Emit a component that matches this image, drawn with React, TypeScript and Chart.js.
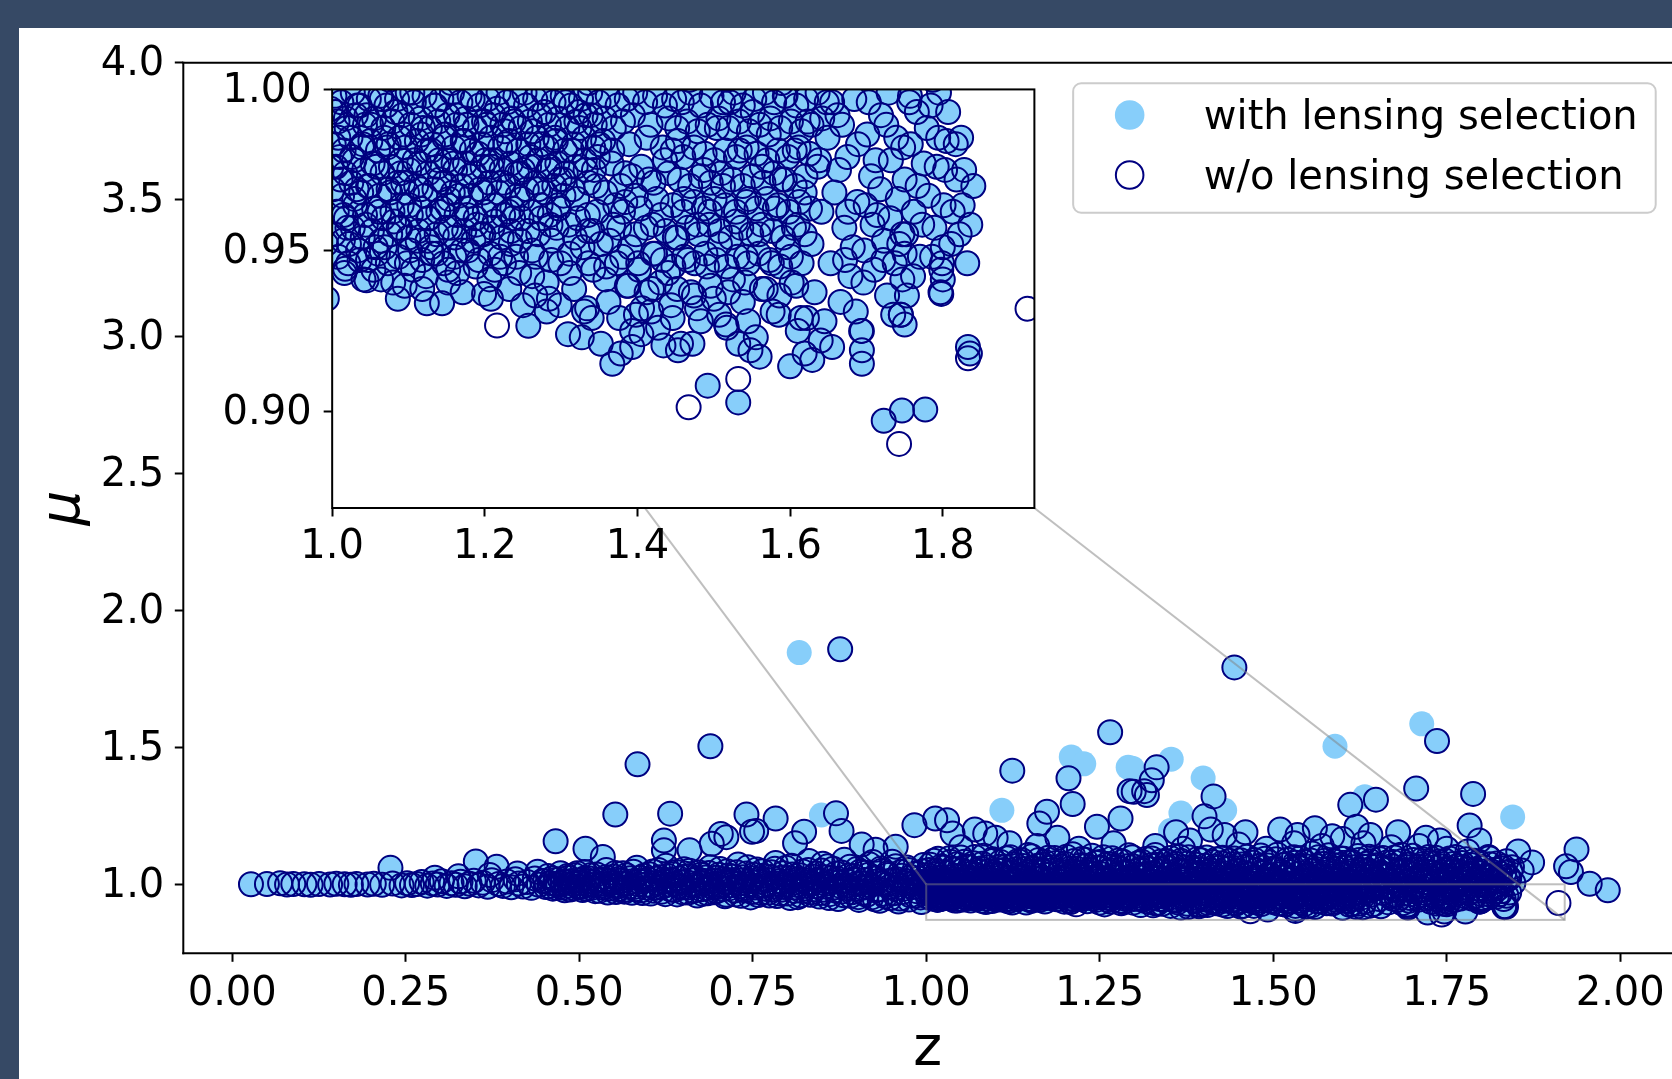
import React, { useEffect, useRef } from 'react';
import { Chart, registerables } from 'chart.js';

Chart.register(...registerables);

type P = [number, number];

// ---------------- axis / tick data ----------------
const MAIN_X_TICKS = [0, 0.25, 0.5, 0.75, 1.0, 1.25, 1.5, 1.75, 2.0];
const MAIN_Y_TICKS = [1.0, 1.5, 2.0, 2.5, 3.0, 3.5, 4.0];
const MAIN_X_RANGE = [-0.0705, 2.0746];
const MAIN_Y_RANGE = [0.748, 4.0];
const INSET_X_TICKS = [1.0, 1.2, 1.4, 1.6, 1.8];
const INSET_Y_TICKS = [0.9, 0.95, 1.0];
const INSET_X_RANGE = [1.0, 1.92];
const INSET_Y_RANGE = [0.87, 1.0];

const LABEL_WITH = 'with lensing selection';
const LABEL_WO = 'w/o lensing selection';

// ---------------- data: (z, mu) ----------------
const lowZBand: P[] = [
  [0.027, 1.0], [0.05, 1.001], [0.069, 1.004], [0.079, 0.999], [0.088, 1.001], [0.104, 1.0], [0.113, 0.998],
  [0.125, 1.001], [0.141, 0.999], [0.15, 1.002], [0.162, 1.0], [0.171, 0.998], [0.179, 1.001], [0.195, 0.999],
  [0.204, 1.002], [0.216, 0.998], [0.231, 1.003], [0.244, 0.996], [0.252, 1.004], [0.259, 0.997], [0.266, 1.001],
  [0.273, 1.008], [0.281, 0.995], [0.289, 1.003], [0.292, 1.024], [0.296, 0.999], [0.302, 1.011], [0.309, 0.994],
  [0.316, 1.004], [0.322, 0.998], [0.326, 1.029], [0.329, 1.009], [0.335, 0.993], [0.342, 1.002], [0.348, 1.013],
  [0.355, 0.996], [0.361, 1.006], [0.368, 0.991], [0.371, 1.034], [0.374, 1.015], [0.384, 1.001], [0.39, 0.994],
  [0.396, 1.01], [0.402, 0.989], [0.408, 1.018], [0.411, 1.039], [0.413, 1.003], [0.419, 0.992], [0.425, 1.008],
  [0.431, 0.987], [0.436, 1.021], [0.44, 1.046], [0.442, 0.998], [0.447, 1.012],
];

const midZBand: P[] = [
  [0.452, 0.99], [0.455, 1.03], [0.458, 1.005], [0.462, 0.984], [0.466, 1.016], [0.47, 0.997], [0.473, 1.04],
  [0.477, 0.988], [0.48, 1.009], [0.484, 1.024], [0.487, 0.981], [0.491, 1.002], [0.494, 1.033], [0.498, 0.993],
  [0.501, 1.014], [0.505, 0.979], [0.508, 1.045], [0.511, 1.0], [0.515, 1.021], [0.518, 0.987], [0.522, 1.008],
  [0.525, 1.036], [0.529, 0.976], [0.532, 0.996], [0.536, 1.017], [0.539, 1.052], [0.543, 0.984], [0.546, 1.005],
  [0.55, 1.028], [0.553, 0.972], [0.556, 0.993], [0.559, 1.013], [0.563, 1.04], [0.566, 0.98], [0.569, 1.002],
  [0.573, 1.022], [0.576, 0.969], [0.579, 0.99], [0.583, 1.06], [0.586, 1.01], [0.589, 0.977], [0.593, 1.031],
  [0.596, 0.998], [0.599, 1.018], [0.603, 0.966], [0.606, 1.047], [0.609, 0.986], [0.612, 1.006], [0.616, 1.026],
  [0.619, 0.973], [0.622, 0.994], [0.625, 1.068], [0.628, 1.014], [0.632, 0.981], [0.635, 1.037], [0.638, 1.001],
  [0.641, 0.963], [0.644, 1.021], [0.648, 0.988], [0.651, 1.055], [0.654, 1.008], [0.657, 0.97], [0.66, 1.03],
  [0.663, 0.995], [0.667, 1.016], [0.67, 0.959], [0.673, 1.043], [0.676, 0.982], [0.679, 1.004], [0.682, 1.025],
  [0.685, 0.967], [0.689, 1.062], [0.692, 0.991], [0.695, 1.012], [0.698, 0.975], [0.701, 1.035], [0.704, 0.998],
  [0.707, 1.019], [0.71, 0.956], [0.713, 1.048], [0.716, 0.985], [0.719, 1.007], [0.722, 1.028], [0.725, 0.963],
  [0.729, 1.072], [0.732, 0.993], [0.735, 1.014], [0.738, 0.978], [0.741, 1.039], [0.744, 1.0], [0.747, 0.952],
  [0.75, 1.022], [0.753, 0.988], [0.756, 1.054], [0.759, 1.009], [0.762, 0.969], [0.765, 1.031], [0.768, 0.995],
  [0.771, 1.016], [0.774, 0.959], [0.777, 1.044], [0.78, 0.982], [0.783, 1.078], [0.786, 1.003], [0.789, 0.966],
  [0.792, 1.025], [0.795, 0.99], [0.798, 1.06], [0.801, 1.011], [0.804, 0.95], [0.807, 1.036], [0.81, 0.976],
  [0.813, 0.998], [0.816, 1.019], [0.819, 0.96], [0.822, 1.047], [0.825, 0.985], [0.828, 1.006], [0.831, 1.085],
  [0.834, 0.971], [0.837, 1.028], [0.84, 0.993], [0.843, 1.014], [0.846, 0.955], [0.849, 1.05], [0.852, 0.98],
  [0.855, 1.002], [0.858, 1.066], [0.861, 0.964], [0.864, 1.023], [0.867, 0.988], [0.87, 1.039], [0.873, 0.946],
  [0.876, 1.009], [0.879, 0.974], [0.882, 1.09], [0.885, 0.996], [0.888, 1.031], [0.891, 0.958], [0.894, 1.017],
  [0.897, 0.983], [0.9, 1.056], [0.903, 0.943], [0.906, 1.004], [0.909, 0.969], [0.912, 1.042], [0.915, 0.99],
  [0.918, 1.073], [0.921, 0.952], [0.924, 1.025], [0.927, 0.978], [0.93, 1.011], [0.933, 0.94], [0.936, 1.049],
  [0.939, 0.965], [0.942, 0.997], [0.945, 1.034], [0.948, 0.949], [0.951, 1.082], [0.954, 0.984], [0.957, 1.018],
  [0.96, 0.937], [0.963, 1.045], [0.966, 0.972], [0.969, 1.003], [0.972, 1.061], [0.975, 0.944], [0.978, 1.027],
  [0.981, 0.99], [0.984, 0.958], [0.987, 1.04], [0.99, 1.009], [0.993, 0.935], [0.996, 1.07], [0.999, 0.976],
];

const midZExtra: P[] = [
  [0.451, 1.012], [0.457, 0.993], [0.461, 1.022], [0.465, 1.001], [0.468, 0.986], [0.472, 1.018], [0.476, 1.003],
  [0.479, 0.978], [0.483, 1.03], [0.486, 0.995], [0.489, 1.012], [0.493, 0.985], [0.497, 1.04], [0.5, 1.004],
  [0.503, 0.99], [0.507, 1.021], [0.51, 0.983], [0.513, 1.01], [0.517, 1.034], [0.52, 0.997], [0.523, 0.975],
  [0.527, 1.016], [0.531, 1.002], [0.534, 0.988], [0.538, 1.026], [0.541, 0.97], [0.545, 1.012], [0.548, 0.994],
  [0.552, 1.041], [0.555, 0.981], [0.558, 1.02], [0.561, 1.003], [0.565, 0.973], [0.568, 1.033], [0.571, 0.991],
  [0.575, 1.01], [0.578, 1.046], [0.581, 0.982], [0.585, 1.0], [0.588, 1.024], [0.591, 0.968], [0.595, 1.013],
  [0.598, 0.987], [0.601, 1.037], [0.605, 0.995], [0.608, 0.976], [0.611, 1.02], [0.614, 1.052], [0.618, 0.99],
  [0.621, 1.01], [0.624, 0.964], [0.627, 1.031], [0.63, 0.999], [0.634, 1.017], [0.637, 0.979], [0.64, 1.045],
  [0.643, 0.993], [0.646, 1.008], [0.65, 0.97], [0.653, 1.028], [0.656, 0.988], [0.659, 1.049], [0.662, 1.003],
  [0.665, 0.976], [0.669, 1.021], [0.672, 0.996], [0.675, 1.035], [0.678, 0.965], [0.681, 1.012], [0.684, 0.985],
  [0.687, 1.041], [0.69, 1.0], [0.694, 0.971], [0.697, 1.024], [0.7, 0.99], [0.703, 1.056], [0.706, 0.982],
  [0.709, 1.008], [0.712, 0.962], [0.715, 1.032], [0.718, 0.996], [0.721, 1.016], [0.724, 0.977], [0.727, 1.044],
  [0.73, 1.003], [0.733, 0.958], [0.736, 1.026], [0.739, 0.987], [0.743, 1.062], [0.746, 1.011], [0.749, 0.972],
  [0.752, 1.035], [0.755, 0.995], [0.758, 0.961], [0.761, 1.019], [0.764, 1.048], [0.767, 0.984], [0.77, 1.003],
  [0.773, 0.97], [0.776, 1.027], [0.779, 0.992], [0.782, 1.057], [0.785, 0.957], [0.788, 1.012], [0.791, 0.98],
  [0.794, 1.04], [0.797, 0.999], [0.8, 0.966], [0.803, 1.023], [0.806, 1.068], [0.809, 0.988], [0.812, 1.007],
  [0.815, 0.953], [0.818, 1.033], [0.821, 0.975], [0.824, 1.015], [0.827, 0.995], [0.83, 1.052], [0.833, 0.962],
  [0.836, 1.004], [0.839, 0.982], [0.842, 1.039], [0.845, 1.018], [0.848, 0.968], [0.851, 1.075], [0.854, 0.992],
  [0.857, 1.026], [0.86, 0.95], [0.863, 1.008], [0.866, 1.057], [0.869, 0.977], [0.872, 1.02], [0.875, 0.995],
  [0.878, 1.043], [0.881, 0.96], [0.884, 1.012], [0.887, 0.985], [0.89, 1.064], [0.893, 0.971], [0.896, 1.03],
  [0.899, 1.001], [0.902, 0.953], [0.905, 1.047], [0.908, 0.987], [0.911, 1.016], [0.914, 0.962], [0.917, 1.035],
  [0.92, 0.997], [0.923, 1.081], [0.926, 0.945], [0.929, 1.022], [0.932, 0.981], [0.935, 1.058], [0.938, 1.005],
  [0.941, 0.956], [0.944, 1.04], [0.947, 0.991], [0.95, 1.015], [0.953, 0.967], [0.956, 1.066], [0.959, 0.999],
  [0.962, 0.948], [0.965, 1.031], [0.968, 0.984], [0.971, 1.012], [0.974, 1.052], [0.977, 0.96], [0.98, 1.002],
  [0.983, 1.038], [0.986, 0.975], [0.989, 1.021], [0.992, 0.952], [0.995, 1.048], [0.998, 0.994],
];

const highZUpperBand: P[] = [
  [1.002, 1.034], [1.006, 1.071], [1.009, 1.012], [1.013, 1.049], [1.017, 1.093], [1.02, 1.025], [1.024, 1.06],
  [1.028, 1.004], [1.031, 1.04], [1.035, 1.082], [1.039, 1.018], [1.042, 1.055], [1.046, 1.03], [1.05, 1.098],
  [1.053, 1.008], [1.057, 1.066], [1.061, 1.043], [1.064, 1.021], [1.068, 1.077], [1.072, 1.035], [1.075, 1.003],
  [1.079, 1.058], [1.083, 1.104], [1.086, 1.027], [1.09, 1.047], [1.094, 1.014], [1.097, 1.086], [1.101, 1.039],
  [1.105, 1.064], [1.108, 1.006], [1.112, 1.052], [1.116, 1.095], [1.119, 1.023], [1.123, 1.041], [1.127, 1.073],
  [1.13, 1.01], [1.134, 1.033], [1.138, 1.088], [1.141, 1.056], [1.145, 1.019], [1.149, 1.045], [1.152, 1.102],
  [1.156, 1.002], [1.16, 1.068], [1.163, 1.029], [1.167, 1.05], [1.171, 1.081], [1.174, 1.013], [1.178, 1.037],
  [1.182, 1.062], [1.185, 1.096], [1.189, 1.024], [1.193, 1.046], [1.196, 1.008], [1.2, 1.075], [1.204, 1.032],
  [1.207, 1.057], [1.211, 1.11], [1.215, 1.016], [1.218, 1.043], [1.222, 1.069], [1.226, 1.027], [1.229, 1.09],
  [1.233, 1.005], [1.237, 1.052], [1.24, 1.036], [1.244, 1.079], [1.248, 1.011], [1.251, 1.061], [1.255, 1.099],
  [1.259, 1.022], [1.262, 1.047], [1.266, 1.072], [1.27, 1.004], [1.273, 1.034], [1.277, 1.087], [1.281, 1.055],
  [1.284, 1.017], [1.288, 1.041], [1.292, 1.106], [1.295, 1.026], [1.299, 1.065], [1.303, 1.009], [1.306, 1.049],
  [1.31, 1.083], [1.314, 1.03], [1.317, 1.058], [1.321, 1.014], [1.325, 1.094], [1.328, 1.038], [1.332, 1.07],
  [1.336, 1.002], [1.339, 1.053], [1.343, 1.021], [1.347, 1.085], [1.35, 1.044], [1.354, 1.012], [1.358, 1.066],
  [1.361, 1.031], [1.365, 1.101], [1.369, 1.049], [1.372, 1.007], [1.376, 1.076], [1.38, 1.035], [1.383, 1.059],
  [1.387, 1.018], [1.391, 1.092], [1.394, 1.042], [1.398, 1.026], [1.402, 1.068], [1.405, 1.004], [1.409, 1.051],
  [1.413, 1.081], [1.416, 1.033], [1.42, 1.015], [1.424, 1.062], [1.427, 1.097], [1.431, 1.039], [1.435, 1.056],
  [1.438, 1.01], [1.442, 1.073], [1.446, 1.028], [1.449, 1.047], [1.453, 1.088], [1.457, 1.019], [1.46, 1.064],
  [1.464, 1.036], [1.468, 1.003], [1.471, 1.079], [1.475, 1.052], [1.479, 1.024], [1.482, 1.105], [1.486, 1.041],
  [1.49, 1.013], [1.493, 1.069], [1.497, 1.033], [1.501, 1.058], [1.504, 1.091], [1.508, 1.008], [1.512, 1.045],
  [1.515, 1.027], [1.519, 1.074], [1.523, 1.016], [1.526, 1.055], [1.53, 1.099], [1.534, 1.037], [1.537, 1.063],
  [1.541, 1.005], [1.545, 1.082], [1.548, 1.03], [1.552, 1.049], [1.556, 1.112], [1.559, 1.021], [1.563, 1.066],
  [1.567, 1.04], [1.57, 1.011], [1.574, 1.086], [1.578, 1.054], [1.581, 1.029], [1.585, 1.071], [1.589, 1.002],
  [1.592, 1.044], [1.596, 1.095], [1.6, 1.034], [1.603, 1.06], [1.607, 1.017], [1.611, 1.078], [1.614, 1.048],
  [1.618, 1.025], [1.622, 1.103], [1.625, 1.038], [1.629, 1.065], [1.633, 1.009], [1.636, 1.052], [1.64, 1.084],
  [1.644, 1.031], [1.647, 1.019], [1.651, 1.07], [1.655, 1.043], [1.658, 1.096], [1.662, 1.012], [1.666, 1.057],
  [1.669, 1.035], [1.673, 1.081], [1.677, 1.004], [1.68, 1.049], [1.684, 1.108], [1.688, 1.026], [1.691, 1.063],
  [1.695, 1.039], [1.699, 1.015], [1.702, 1.089], [1.706, 1.054], [1.71, 1.03], [1.713, 1.072], [1.717, 1.008],
  [1.721, 1.046], [1.724, 1.1], [1.728, 1.021], [1.732, 1.061], [1.735, 1.037], [1.739, 1.083], [1.743, 1.013],
  [1.746, 1.051], [1.75, 1.028], [1.754, 1.094], [1.757, 1.044], [1.761, 1.006], [1.765, 1.067], [1.768, 1.033],
  [1.772, 1.078], [1.776, 1.018], [1.779, 1.055], [1.783, 1.04], [1.787, 1.003], [1.79, 1.086], [1.794, 1.025],
  [1.798, 1.06], [1.801, 1.012], [1.805, 1.047], [1.809, 1.031], [1.812, 1.073], [1.816, 1.008], [1.82, 1.053],
  [1.823, 1.022], [1.827, 1.039], [1.831, 1.065], [1.835, 1.014], [1.838, 1.028], [1.842, 1.048], [1.846, 1.005],
];

const highZExtra: P[] = [
  [1.004, 1.052], [1.008, 1.021], [1.011, 1.086], [1.015, 1.038], [1.019, 1.007], [1.022, 1.066], [1.026, 1.044],
  [1.03, 1.015], [1.033, 1.095], [1.037, 1.058], [1.041, 1.029], [1.044, 1.073], [1.048, 1.01], [1.052, 1.049],
  [1.055, 1.082], [1.059, 1.026], [1.063, 1.062], [1.066, 1.04], [1.07, 1.1], [1.074, 1.018], [1.077, 1.047],
  [1.081, 1.075], [1.085, 1.005], [1.088, 1.062], [1.092, 1.033], [1.096, 1.091], [1.099, 1.012], [1.103, 1.05],
  [1.107, 1.081], [1.11, 1.028], [1.114, 1.063], [1.118, 1.04], [1.121, 1.099], [1.125, 1.011], [1.129, 1.055],
  [1.132, 1.085], [1.136, 1.024], [1.14, 1.067], [1.143, 1.037], [1.147, 1.107], [1.151, 1.006], [1.154, 1.059],
  [1.158, 1.045], [1.162, 1.089], [1.165, 1.02], [1.169, 1.071], [1.173, 1.034], [1.176, 1.097], [1.18, 1.013],
  [1.184, 1.053], [1.187, 1.078], [1.191, 1.039], [1.195, 1.064], [1.198, 1.023], [1.202, 1.101], [1.206, 1.047],
  [1.209, 1.008], [1.213, 1.085], [1.217, 1.057], [1.22, 1.03], [1.224, 1.092], [1.228, 1.015], [1.231, 1.068],
  [1.235, 1.042], [1.239, 1.104], [1.242, 1.025], [1.246, 1.06], [1.25, 1.081], [1.253, 1.037], [1.257, 1.013],
  [1.261, 1.074], [1.264, 1.052], [1.268, 1.095], [1.272, 1.026], [1.275, 1.06], [1.279, 1.008], [1.283, 1.083],
  [1.286, 1.044], [1.29, 1.066], [1.294, 1.019], [1.297, 1.099], [1.301, 1.035], [1.305, 1.077], [1.308, 1.057],
  [1.312, 1.011], [1.316, 1.092], [1.319, 1.04], [1.323, 1.069], [1.327, 1.024], [1.33, 1.107], [1.334, 1.048],
  [1.338, 1.083], [1.341, 1.017], [1.345, 1.062], [1.349, 1.036], [1.352, 1.096], [1.356, 1.009], [1.36, 1.074],
  [1.363, 1.051], [1.367, 1.086], [1.371, 1.023], [1.374, 1.061], [1.378, 1.099], [1.382, 1.042], [1.385, 1.012],
  [1.389, 1.071], [1.393, 1.055], [1.396, 1.088], [1.4, 1.03], [1.404, 1.098], [1.407, 1.045], [1.411, 1.017],
  [1.415, 1.064], [1.418, 1.091], [1.422, 1.038], [1.426, 1.077], [1.429, 1.006], [1.433, 1.058], [1.437, 1.086],
  [1.44, 1.025], [1.444, 1.094], [1.448, 1.05], [1.451, 1.014], [1.455, 1.072], [1.459, 1.04], [1.462, 1.101],
  [1.466, 1.059], [1.47, 1.027], [1.473, 1.089], [1.477, 1.012], [1.481, 1.068], [1.484, 1.046], [1.488, 1.093],
  [1.492, 1.031], [1.495, 1.08], [1.499, 1.018], [1.503, 1.056], [1.506, 1.108], [1.51, 1.037], [1.514, 1.07],
  [1.517, 1.003], [1.521, 1.09], [1.525, 1.045], [1.528, 1.022], [1.532, 1.079], [1.536, 1.06], [1.539, 1.095],
  [1.543, 1.014], [1.547, 1.066], [1.55, 1.033], [1.554, 1.087], [1.558, 1.051], [1.561, 1.01], [1.565, 1.099],
  [1.569, 1.029], [1.572, 1.074], [1.576, 1.043], [1.58, 1.106], [1.583, 1.016], [1.587, 1.085], [1.591, 1.057],
  [1.594, 1.026], [1.598, 1.071], [1.602, 1.093], [1.605, 1.041], [1.609, 1.006], [1.613, 1.082], [1.616, 1.062],
  [1.62, 1.03], [1.624, 1.089], [1.627, 1.05], [1.631, 1.013], [1.635, 1.075], [1.638, 1.101], [1.642, 1.04],
  [1.646, 1.063], [1.649, 1.021], [1.653, 1.092], [1.657, 1.056], [1.66, 1.034], [1.664, 1.08], [1.668, 1.01],
  [1.671, 1.067], [1.675, 1.098], [1.679, 1.045], [1.682, 1.024], [1.686, 1.085], [1.69, 1.052], [1.693, 1.007],
  [1.697, 1.072], [1.701, 1.104], [1.704, 1.036], [1.708, 1.064], [1.712, 1.016], [1.715, 1.091], [1.719, 1.048],
  [1.723, 1.028], [1.726, 1.077], [1.73, 1.042], [1.734, 1.097], [1.737, 1.011], [1.741, 1.066], [1.745, 1.035],
  [1.748, 1.086], [1.752, 1.057], [1.756, 1.02], [1.759, 1.074], [1.763, 1.1], [1.767, 1.046], [1.77, 1.009],
  [1.774, 1.062], [1.778, 1.091], [1.781, 1.03], [1.785, 1.07], [1.789, 1.051], [1.792, 1.015], [1.796, 1.082],
  [1.8, 1.04], [1.803, 1.063], [1.807, 1.025], [1.811, 1.095], [1.814, 1.048], [1.818, 1.033], [1.822, 1.076],
  [1.825, 1.011], [1.829, 1.058], [1.833, 1.043], [1.836, 1.084], [1.84, 1.022], [1.844, 1.062],
];

const insetDenseUpper: P[] = [
  [1.003, 0.998], [1.012, 0.996], [1.027, 0.999], [1.036, 0.995], [1.048, 0.997], [1.063, 0.998], [1.071, 0.995],
  [1.085, 0.997], [1.099, 0.999], [1.107, 0.996], [1.121, 0.998], [1.135, 0.995], [1.143, 0.997], [1.157, 0.999],
  [1.168, 0.996], [1.18, 0.998], [1.193, 0.995], [1.204, 0.997], [1.218, 0.999], [1.229, 0.996], [1.24, 0.998],
  [1.254, 0.995], [1.266, 0.997], [1.277, 0.999], [1.29, 0.996], [1.302, 0.998], [1.313, 0.995], [1.326, 0.997],
  [1.338, 0.999], [1.349, 0.996], [1.361, 0.998], [1.374, 0.995], [1.386, 0.997], [1.397, 0.999], [1.41, 0.996],
  [1.423, 0.998], [1.436, 0.995], [1.448, 0.997],
  [1.007, 0.99], [1.019, 0.988], [1.031, 0.992], [1.043, 0.989], [1.055, 0.991], [1.067, 0.988], [1.079, 0.99],
  [1.092, 0.992], [1.103, 0.989], [1.116, 0.991], [1.128, 0.988], [1.139, 0.99], [1.151, 0.992], [1.163, 0.989],
  [1.175, 0.991], [1.187, 0.988], [1.199, 0.99], [1.211, 0.992], [1.223, 0.989], [1.235, 0.991], [1.247, 0.988],
  [1.259, 0.99], [1.272, 0.992], [1.284, 0.989], [1.296, 0.991], [1.308, 0.988], [1.32, 0.99], [1.332, 0.992],
  [1.344, 0.989], [1.357, 0.991], [1.369, 0.988], [1.381, 0.99], [1.394, 0.992], [1.417, 0.989], [1.441, 0.991],
  [1.002, 0.983], [1.015, 0.981], [1.024, 0.985], [1.039, 0.982], [1.05, 0.984], [1.06, 0.981], [1.074, 0.983],
  [1.088, 0.985], [1.096, 0.982], [1.111, 0.984], [1.124, 0.981], [1.132, 0.983], [1.147, 0.985], [1.159, 0.982],
  [1.171, 0.984], [1.183, 0.981], [1.196, 0.983], [1.208, 0.985], [1.22, 0.982], [1.232, 0.984], [1.244, 0.981],
  [1.257, 0.983], [1.268, 0.985], [1.281, 0.982], [1.293, 0.984], [1.305, 0.981], [1.317, 0.983], [1.33, 0.985],
  [1.342, 0.982], [1.355, 0.984], [1.367, 0.981], [1.389, 0.983], [1.412, 0.985], [1.433, 0.982],
  [1.005, 0.976], [1.017, 0.974], [1.029, 0.978], [1.042, 0.975], [1.053, 0.977], [1.066, 0.974], [1.077, 0.976],
  [1.09, 0.978], [1.101, 0.975], [1.114, 0.977], [1.126, 0.974], [1.138, 0.976], [1.15, 0.978], [1.161, 0.975],
  [1.174, 0.977], [1.186, 0.974], [1.197, 0.976], [1.21, 0.978], [1.222, 0.975], [1.234, 0.977], [1.246, 0.974],
  [1.258, 0.976], [1.27, 0.978], [1.283, 0.975], [1.295, 0.977], [1.306, 0.974], [1.319, 0.976], [1.331, 0.978],
  [1.343, 0.975], [1.366, 0.977], [1.384, 0.974], [1.405, 0.976],
];

const insetDenseLower: P[] = [
  [1.001, 0.969], [1.013, 0.967], [1.025, 0.971], [1.038, 0.968], [1.049, 0.97], [1.062, 0.967], [1.074, 0.969],
  [1.086, 0.971], [1.098, 0.968], [1.11, 0.97], [1.122, 0.967], [1.134, 0.969], [1.147, 0.971], [1.158, 0.968],
  [1.17, 0.97], [1.182, 0.967], [1.194, 0.969], [1.206, 0.971], [1.218, 0.968], [1.231, 0.97], [1.243, 0.967],
  [1.255, 0.969], [1.267, 0.971], [1.279, 0.968], [1.291, 0.97], [1.303, 0.967], [1.315, 0.969], [1.336, 0.971],
  [1.358, 0.968], [1.378, 0.97],
  [1.006, 0.962], [1.018, 0.96], [1.03, 0.964], [1.043, 0.961], [1.055, 0.963], [1.067, 0.96], [1.079, 0.962],
  [1.091, 0.964], [1.103, 0.961], [1.115, 0.963], [1.127, 0.96], [1.139, 0.962], [1.151, 0.964], [1.163, 0.961],
  [1.175, 0.963], [1.188, 0.96], [1.2, 0.962], [1.212, 0.964], [1.224, 0.961], [1.236, 0.963], [1.248, 0.96],
  [1.261, 0.962], [1.273, 0.964], [1.285, 0.961], [1.297, 0.963], [1.322, 0.96], [1.347, 0.962], [1.371, 0.964],
  [1.002, 0.955], [1.014, 0.953], [1.027, 0.957], [1.04, 0.954], [1.052, 0.956], [1.064, 0.953], [1.076, 0.955],
  [1.089, 0.957], [1.1, 0.954], [1.113, 0.956], [1.125, 0.953], [1.137, 0.955], [1.149, 0.957], [1.161, 0.954],
  [1.173, 0.956], [1.185, 0.953], [1.198, 0.955], [1.21, 0.957], [1.222, 0.954], [1.234, 0.956], [1.246, 0.953],
  [1.27, 0.955], [1.294, 0.957], [1.318, 0.954], [1.341, 0.956], [1.363, 0.953],
  [1.008, 0.948], [1.021, 0.946], [1.034, 0.95], [1.047, 0.947], [1.06, 0.949], [1.073, 0.946], [1.087, 0.948],
  [1.102, 0.95], [1.118, 0.947], [1.131, 0.949], [1.146, 0.946], [1.16, 0.948], [1.178, 0.95], [1.192, 0.947],
  [1.207, 0.949], [1.225, 0.946], [1.241, 0.948], [1.262, 0.95], [1.287, 0.947], [1.311, 0.949], [1.336, 0.946],
];

const insetDenseExtra: P[] = [
  [1.004, 0.993], [1.008, 0.985], [1.011, 0.972], [1.015, 0.961], [1.018, 0.991], [1.022, 0.952], [1.026, 0.979],
  [1.029, 0.966], [1.033, 0.995], [1.036, 0.947], [1.04, 0.983], [1.044, 0.958], [1.047, 0.97], [1.051, 0.989],
  [1.054, 0.944], [1.058, 0.976], [1.062, 0.962], [1.065, 0.997], [1.069, 0.951], [1.072, 0.982], [1.076, 0.968],
  [1.08, 0.94], [1.083, 0.993], [1.087, 0.957], [1.09, 0.974], [1.094, 0.986], [1.098, 0.946], [1.101, 0.964],
  [1.105, 0.999], [1.108, 0.978], [1.112, 0.953], [1.116, 0.969], [1.119, 0.988], [1.123, 0.942], [1.126, 0.96],
  [1.13, 0.981], [1.134, 0.995], [1.137, 0.949], [1.141, 0.972], [1.144, 0.963], [1.148, 0.986], [1.152, 0.944],
  [1.155, 0.957], [1.159, 0.977], [1.162, 0.992], [1.166, 0.967], [1.17, 0.95], [1.173, 0.984], [1.177, 0.961],
  [1.18, 0.973], [1.184, 0.997], [1.188, 0.945], [1.191, 0.98], [1.195, 0.955], [1.198, 0.968], [1.202, 0.989],
  [1.206, 0.941], [1.209, 0.976], [1.213, 0.959], [1.216, 0.994], [1.22, 0.948], [1.224, 0.971], [1.227, 0.983],
  [1.231, 0.962], [1.234, 0.952], [1.238, 0.99], [1.242, 0.974], [1.245, 0.943], [1.249, 0.966], [1.252, 0.999],
  [1.256, 0.956], [1.26, 0.979], [1.263, 0.987], [1.267, 0.948], [1.27, 0.969], [1.274, 0.96], [1.278, 0.993],
  [1.281, 0.94], [1.285, 0.976], [1.288, 0.953], [1.292, 0.985], [1.296, 0.964], [1.299, 0.946], [1.303, 0.972],
  [1.306, 0.996], [1.31, 0.958], [1.314, 0.981], [1.317, 0.938], [1.321, 0.966], [1.324, 0.988], [1.328, 0.951],
  [1.332, 0.975], [1.335, 0.961], [1.339, 0.992], [1.342, 0.944], [1.346, 0.97], [1.35, 0.983],
  [1.01, 0.979], [1.02, 0.957], [1.032, 0.969], [1.045, 0.992], [1.057, 0.951], [1.068, 0.985], [1.081, 0.959],
  [1.093, 0.971], [1.106, 0.944], [1.117, 0.986], [1.129, 0.951], [1.14, 0.978], [1.153, 0.966], [1.164, 0.943],
  [1.176, 0.989], [1.189, 0.958], [1.201, 0.978], [1.213, 0.944], [1.226, 0.987], [1.237, 0.96], [1.25, 0.975],
  [1.262, 0.942], [1.275, 0.983], [1.286, 0.958], [1.298, 0.972], [1.311, 0.943], [1.323, 0.993], [1.335, 0.956],
  [1.348, 0.979], [1.359, 0.945], [1.016, 0.943], [1.041, 0.941], [1.064, 0.941], [1.095, 0.939], [1.118, 0.938],
  [1.152, 0.94], [1.171, 0.937], [1.208, 0.935], [1.232, 0.938], [1.266, 0.936], [1.298, 0.933], [1.33, 0.931],
];

const insetMidBand: P[] = [
  [1.352, 0.952], [1.358, 0.941], [1.362, 0.934], [1.368, 0.958], [1.373, 0.946], [1.376, 0.929], [1.381, 0.962],
  [1.386, 0.939], [1.39, 0.951], [1.393, 0.925], [1.398, 0.967], [1.402, 0.944], [1.406, 0.932], [1.411, 0.957],
  [1.415, 0.972], [1.419, 0.938], [1.423, 0.949], [1.427, 0.926], [1.431, 0.961], [1.436, 0.978], [1.44, 0.943],
  [1.444, 0.933], [1.449, 0.954], [1.453, 0.984], [1.457, 0.921], [1.461, 0.966], [1.466, 0.947], [1.47, 0.937],
  [1.478, 0.958], [1.483, 0.928], [1.487, 0.975], [1.491, 0.945], [1.495, 0.962], [1.5, 0.935], [1.504, 0.988],
  [1.508, 0.952], [1.512, 0.97], [1.517, 0.926], [1.521, 0.996], [1.525, 0.941], [1.529, 0.959], [1.534, 0.981],
  [1.538, 0.934], [1.542, 0.948], [1.546, 0.966], [1.551, 0.993], [1.555, 0.923], [1.559, 0.955], [1.563, 0.976],
  [1.568, 0.938], [1.572, 0.986], [1.576, 0.946], [1.58, 0.963], [1.585, 0.93], [1.589, 0.972], [1.593, 0.998],
  [1.597, 0.951], [1.602, 0.94], [1.606, 0.981], [1.61, 0.958], [1.614, 0.929], [1.619, 0.968], [1.623, 0.99],
];

const insetMidExtra: P[] = [
  [1.458, 0.996], [1.469, 0.999], [1.483, 0.995], [1.497, 0.998], [1.512, 0.996], [1.526, 0.999], [1.538, 0.995],
  [1.553, 0.997], [1.567, 0.999], [1.579, 0.996], [1.594, 0.998], [1.608, 0.995], [1.621, 0.997], [1.636, 0.999],
  [1.648, 0.996], [1.452, 0.988], [1.465, 0.99], [1.479, 0.987], [1.492, 0.989], [1.506, 0.991], [1.519, 0.988],
  [1.533, 0.99], [1.546, 0.987], [1.56, 0.989], [1.574, 0.991], [1.587, 0.988], [1.601, 0.99], [1.615, 0.987],
  [1.628, 0.989], [1.642, 0.991], [1.446, 0.981], [1.46, 0.979], [1.474, 0.982], [1.488, 0.98], [1.501, 0.978],
  [1.515, 0.981], [1.529, 0.979], [1.543, 0.982], [1.556, 0.98], [1.57, 0.978], [1.584, 0.981], [1.597, 0.979],
  [1.611, 0.982], [1.625, 0.98], [1.638, 0.978], [1.393, 0.973], [1.421, 0.971], [1.441, 0.974], [1.455, 0.972],
  [1.469, 0.97], [1.483, 0.973], [1.496, 0.971], [1.51, 0.974], [1.524, 0.972], [1.538, 0.97], [1.551, 0.973],
  [1.565, 0.971], [1.579, 0.974], [1.593, 0.972], [1.606, 0.97], [1.62, 0.973], [1.384, 0.965], [1.404, 0.963],
  [1.425, 0.966], [1.446, 0.964], [1.46, 0.962], [1.474, 0.965], [1.487, 0.963], [1.501, 0.966], [1.515, 0.964],
  [1.529, 0.962], [1.543, 0.965], [1.556, 0.963], [1.57, 0.966], [1.584, 0.964], [1.598, 0.962], [1.612, 0.965],
  [1.626, 0.963], [1.376, 0.957], [1.398, 0.955], [1.42, 0.958], [1.437, 0.956], [1.452, 0.954], [1.466, 0.957],
  [1.48, 0.955], [1.494, 0.958], [1.508, 0.956], [1.522, 0.954], [1.536, 0.957], [1.549, 0.955], [1.563, 0.958],
  [1.577, 0.956], [1.591, 0.954], [1.605, 0.957], [1.619, 0.955], [1.38, 0.948], [1.401, 0.946], [1.42, 0.949],
  [1.433, 0.947], [1.447, 0.945], [1.461, 0.948], [1.475, 0.946], [1.489, 0.949], [1.503, 0.947], [1.517, 0.945],
  [1.531, 0.948], [1.545, 0.946], [1.559, 0.949], [1.573, 0.947], [1.587, 0.945], [1.601, 0.948], [1.615, 0.946],
  [1.388, 0.939], [1.412, 0.937], [1.43, 0.94], [1.452, 0.938], [1.474, 0.936], [1.496, 0.939], [1.519, 0.937],
  [1.541, 0.94], [1.563, 0.938], [1.586, 0.936], [1.608, 0.939], [1.418, 0.931], [1.446, 0.929], [1.478, 0.932],
  [1.507, 0.93], [1.545, 0.928], [1.577, 0.931], [1.622, 0.929],
];

const insetRightBand: P[] = [
  [1.628, 0.952], [1.632, 0.937], [1.636, 0.976], [1.641, 0.962], [1.645, 0.928], [1.649, 0.985], [1.653, 0.946],
  [1.658, 0.968], [1.662, 0.992], [1.666, 0.934], [1.671, 0.957], [1.675, 0.979], [1.679, 0.942], [1.684, 0.997],
  [1.688, 0.965], [1.693, 0.925], [1.697, 0.95], [1.701, 0.986], [1.706, 0.973], [1.71, 0.944], [1.714, 0.961],
  [1.719, 0.992], [1.723, 0.953], [1.727, 0.936], [1.732, 0.978], [1.737, 0.946], [1.741, 0.966], [1.745, 0.93],
  [1.748, 0.982], [1.752, 0.955], [1.756, 0.996], [1.761, 0.942], [1.767, 0.97], [1.773, 0.958], [1.779, 0.988],
  [1.786, 0.948], [1.792, 0.976], [1.797, 0.937], [1.801, 0.964], [1.805, 0.984], [1.811, 0.952], [1.818, 0.972],
  [1.826, 0.964], [1.824, 0.985], [1.832, 0.946],
  [1.655, 0.996], [1.668, 0.989], [1.676, 0.962], [1.682, 0.951], [1.689, 0.983], [1.696, 0.94], [1.703, 0.996],
  [1.708, 0.958], [1.712, 0.978], [1.718, 0.969], [1.722, 0.947], [1.726, 0.989], [1.731, 0.96], [1.735, 0.93],
  [1.739, 0.985], [1.743, 0.952], [1.747, 0.941], [1.75, 0.972], [1.753, 0.936], [1.758, 0.983], [1.762, 0.962],
  [1.766, 0.993], [1.77, 0.948], [1.775, 0.977], [1.781, 0.967], [1.784, 0.995], [1.789, 0.957], [1.794, 0.985],
  [1.799, 0.946], [1.8, 0.941], [1.803, 0.975], [1.807, 0.993], [1.813, 0.962], [1.817, 0.983], [1.822, 0.955],
  [1.828, 0.975], [1.836, 0.958], [1.84, 0.97], [1.664, 0.975], [1.672, 0.947], [1.686, 0.931], [1.699, 0.964],
  [1.729, 0.999], [1.757, 0.998], [1.795, 0.999], [1.747, 0.955], [1.75, 0.949], [1.8, 0.951], [1.798, 0.944],
];

const insetLowTail: P[] = [
  [1.086, 0.935], [1.124, 0.9336], [1.144, 0.9336], [1.045, 0.9407], [1.017, 0.9443], [1.199, 0.9365],
  [1.257, 0.9266], [1.25, 0.933], [1.284, 0.935], [1.281, 0.931], [1.309, 0.924], [1.327, 0.923], [1.334, 0.932],
  [1.34, 0.929], [1.367, 0.9148], [1.352, 0.921], [1.378, 0.918], [1.393, 0.92], [1.405, 0.924], [1.398, 0.93],
  [1.434, 0.9205], [1.453, 0.919], [1.472, 0.921], [1.492, 0.908], [1.532, 0.9028], [1.516, 0.927], [1.532, 0.921],
  [1.548, 0.919], [1.56, 0.917], [1.6, 0.914], [1.619, 0.918], [1.629, 0.916], [1.61, 0.925], [1.64, 0.922],
  [1.655, 0.92], [1.694, 0.925], [1.694, 0.919], [1.694, 0.9148], [1.7226, 0.8971], [1.7465, 0.9003],
  [1.777, 0.9006], [1.745, 0.93], [1.75, 0.927], [1.798, 0.9365], [1.8355, 0.918], [1.833, 0.92],
];

const outlierPoints: P[] = [
  [0.228, 1.06], [0.351, 1.083], [0.381, 1.064], [0.876, 1.858], [1.444, 1.792], [0.584, 1.438], [0.689, 1.504],
  [1.265, 1.555], [1.332, 1.427], [1.325, 1.38], [1.293, 1.34], [1.314, 1.34], [1.205, 1.387], [1.211, 1.293],
  [1.124, 1.415], [1.414, 1.321], [1.736, 1.523], [1.706, 1.35], [1.788, 1.33], [1.611, 1.29], [1.648, 1.309],
  [1.783, 1.215], [1.937, 1.127], [0.552, 1.255], [0.631, 1.258], [0.466, 1.157], [0.509, 1.13], [0.741, 1.255],
  [0.783, 1.24], [0.755, 1.195], [0.704, 1.184], [0.87, 1.259], [0.878, 1.195], [0.983, 1.216], [1.013, 1.24],
  [1.03, 1.234], [1.038, 1.185], [1.07, 1.2], [1.085, 1.185], [1.1, 1.17], [1.174, 1.265], [1.163, 1.222],
  [1.189, 1.17], [1.28, 1.24], [1.246, 1.21], [1.299, 1.338], [1.318, 1.326], [1.401, 1.248], [1.41, 1.2],
  [1.43, 1.18], [1.51, 1.2], [1.535, 1.18], [1.56, 1.205], [1.585, 1.175], [1.6, 1.165], [1.62, 1.21],
  [1.797, 1.16], [1.853, 1.12], [1.873, 1.08], [1.858, 1.05], [1.922, 1.066], [1.929, 1.045], [1.956, 1.002],
  [1.982, 0.978], [0.622, 1.16], [0.622, 1.124], [0.712, 1.172], [0.691, 1.148], [0.659, 1.124], [0.534, 1.1],
  [0.824, 1.192], [0.811, 1.15], [0.907, 1.145], [0.927, 1.126], [0.956, 1.137], [0.749, 1.192], [1.05, 1.135],
  [1.12, 1.15], [1.16, 1.14], [1.22, 1.13], [1.27, 1.15], [1.33, 1.14], [1.37, 1.13], [1.45, 1.145], [1.49, 1.13],
  [1.53, 1.15], [1.57, 1.14], [1.63, 1.15], [1.67, 1.135], [1.71, 1.14], [1.75, 1.13], [1.78, 1.12], [1.81, 1.1],
  [1.36, 1.19], [1.38, 1.16], [1.46, 1.19], [1.64, 1.18], [1.68, 1.19], [1.72, 1.17], [1.74, 1.16],
];

const withOnlyPoints: P[] = [
  [0.817, 1.846], [1.209, 1.465], [1.227, 1.44], [1.291, 1.427], [1.353, 1.457], [1.399, 1.388], [1.43, 1.27],
  [1.589, 1.504], [1.714, 1.586], [1.845, 1.246], [0.849, 1.253], [1.109, 1.27], [1.297, 1.424], [1.367, 1.26],
  [1.352, 1.196], [1.632, 1.32],
];

const withoutOnlyPoints: P[] = [
  [1.216, 0.9267], [1.467, 0.9013], [1.532, 0.9101], [1.7427, 0.8899], [1.833, 0.9165], [1.911, 0.9319],
];

const sharedPoints: P[] = [
  ...lowZBand, ...midZBand, ...midZExtra, ...highZUpperBand, ...highZExtra, ...insetDenseUpper,
  ...insetDenseLower, ...insetDenseExtra, ...insetMidBand, ...insetMidExtra, ...insetRightBand,
  ...insetLowTail, ...outlierPoints,
];
const withLensing = [...sharedPoints, ...withOnlyPoints].map(([x, y]) => ({ x, y }));
const withoutLensing = [...sharedPoints, ...withoutOnlyPoints].map(([x, y]) => ({ x, y }));

// ---------------- styles / layout ----------------
const FAMILY = "'DejaVu Sans', 'Liberation Sans', sans-serif";
const SKY = '#87CEFA';
const NAVY = '#000080';
const BG_DARK = '#364965';
const PAGE_W = 1672;
const PAGE_H = 1079;
const TICK_FONT = 40;
const LABEL_FONT = 55;
const INSET_FRAC = { x0: 0.1, x1: 0.5717, y0: 0.5, y1: 0.97 };
const INSET_PAD = { l: 150, t: 40, r: 30, b: 80 };

function insetBox(ca: any) {
  const w = ca.right - ca.left;
  const h = ca.bottom - ca.top;
  return {
    left: ca.left + INSET_FRAC.x0 * w,
    right: ca.left + INSET_FRAC.x1 * w,
    top: ca.bottom - INSET_FRAC.y1 * h,
    bottom: ca.bottom - INSET_FRAC.y0 * h,
  };
}

function makeDatasets(clip?: number) {
  const extra = clip === undefined ? {} : { clip };
  return [
    {
      label: LABEL_WITH, data: withLensing, order: 2,
      pointRadius: 12.5, pointHoverRadius: 12.5, pointBackgroundColor: SKY,
      pointBorderWidth: 0, pointBorderColor: 'rgba(0,0,0,0)', ...extra,
    },
    {
      label: LABEL_WO, data: withoutLensing, order: 1,
      pointRadius: 12, pointHoverRadius: 12, pointBackgroundColor: 'rgba(0,0,0,0)',
      pointBorderWidth: 2, pointBorderColor: NAVY, ...extra,
    },
  ];
}

function line(ctx: CanvasRenderingContext2D, x0: number, y0: number, x1: number, y1: number) {
  ctx.beginPath();
  ctx.moveTo(x0, y0);
  ctx.lineTo(x1, y1);
  ctx.stroke();
}

const mainDecor = {
  id: 'mainDecor',
  afterDatasetsDraw(chart: any) {
    const { ctx, chartArea: ca } = chart;
    const xs = chart.scales.x;
    const ys = chart.scales.y;
    ctx.save();
    const rx0 = xs.getPixelForValue(INSET_X_RANGE[0]);
    const rx1 = xs.getPixelForValue(INSET_X_RANGE[1]);
    const ry0 = ys.getPixelForValue(INSET_Y_RANGE[1]);
    const ry1 = ys.getPixelForValue(INSET_Y_RANGE[0]);
    ctx.strokeStyle = 'rgba(128,128,128,0.5)';
    ctx.lineWidth = 2;
    ctx.strokeRect(rx0, ry0, rx1 - rx0, ry1 - ry0);
    const ib = insetBox(ca);
    line(ctx, rx0, ry0, ib.left, ib.top);
    line(ctx, rx1, ry1, ib.right, ib.bottom);
    ctx.strokeStyle = '#000';
    ctx.lineWidth = 2;
    ctx.lineCap = 'square';
    line(ctx, ca.left, ca.top, ca.left, ca.bottom);
    line(ctx, ca.left, ca.bottom, ca.right + 2, ca.bottom);
    line(ctx, ca.left, ca.top, ca.right + 2, ca.top);
    ctx.restore();
  },
  afterDraw(chart: any) {
    const { ctx, chartArea: ca } = chart;
    const ds = chart.data.datasets;
    ctx.save();
    ctx.font = `${TICK_FONT}px ${FAMILY}`;
    const tw = Math.max(...ds.map((d: any) => ctx.measureText(d.label).width));
    const textX = 130.7;
    const right = ca.right - 16.3;
    const top = ca.top + 20.6;
    const w = textX + tw + 18;
    const h = 129.4;
    const left = right - w;
    ctx.beginPath();
    (ctx as any).roundRect(left, top, w, h, 8);
    ctx.fillStyle = 'rgba(255,255,255,0.8)';
    ctx.fill();
    ctx.strokeStyle = '#cccccc';
    ctx.lineWidth = 2;
    ctx.stroke();
    const rows = [top + 31.7, top + 91.7];
    const mx = left + 56.5;
    ctx.beginPath();
    ctx.arc(mx, rows[0], 14.8, 0, Math.PI * 2);
    ctx.fillStyle = ds[0].pointBackgroundColor;
    ctx.fill();
    ctx.beginPath();
    ctx.arc(mx, rows[1], 13.8, 0, Math.PI * 2);
    ctx.strokeStyle = ds[1].pointBorderColor;
    ctx.lineWidth = 2;
    ctx.stroke();
    ctx.fillStyle = '#000';
    ctx.textBaseline = 'alphabetic';
    ctx.textAlign = 'left';
    ds.forEach((d: any, i: number) => ctx.fillText(d.label, left + textX, rows[i] + 13.5));
    ctx.restore();
  },
};

const insetDecor = {
  id: 'insetDecor',
  beforeDraw(chart: any) {
    const { ctx, chartArea: ca } = chart;
    ctx.save();
    ctx.fillStyle = '#fff';
    ctx.fillRect(ca.left, ca.top, ca.right - ca.left, ca.bottom - ca.top);
    ctx.restore();
  },
  afterDatasetsDraw(chart: any) {
    const { ctx, chartArea: ca } = chart;
    ctx.save();
    ctx.strokeStyle = '#000';
    ctx.lineWidth = 2;
    ctx.lineJoin = 'miter';
    ctx.strokeRect(ca.left, ca.top, ca.right - ca.left, ca.bottom - ca.top);
    ctx.restore();
  },
};

function tickGrid() {
  return { display: true, drawOnChartArea: false, drawTicks: true, tickLength: 8.5, tickWidth: 2, tickColor: '#000' };
}

function fixX(h: number) {
  return (s: any) => { s.height = h; s.paddingLeft = 0; s.paddingRight = 0; };
}
function fixY(w: number) {
  return (s: any) => { s.width = w; s.paddingTop = 0; s.paddingBottom = 0; };
}

export default function App() {
  const mainRef = useRef<HTMLCanvasElement>(null);
  const insetRef = useRef<HTMLCanvasElement>(null);

  useEffect(() => {
    const mainCanvas = mainRef.current!;
    const insetCanvas = insetRef.current!;
    const main = new Chart(mainCanvas, {
      type: 'scatter',
      data: { datasets: makeDatasets() as any },
      options: {
        responsive: false,
        animation: false,
        devicePixelRatio: 1,
        events: [],
        layout: { autoPadding: false, padding: { top: 62.7, right: 0, bottom: 0, left: 0 } },
        plugins: { legend: { display: false }, tooltip: { enabled: false } },
        scales: {
          x: {
            type: 'linear', position: 'bottom', min: MAIN_X_RANGE[0], max: MAIN_X_RANGE[1],
            afterBuildTicks: (s: any) => { s.ticks = MAIN_X_TICKS.map((v) => ({ value: v })); },
            afterFit: fixX(PAGE_H - 953.3),
            ticks: {
              autoSkip: false, maxRotation: 0, minRotation: 0, padding: 8.4, color: '#000',
              font: { family: FAMILY, size: TICK_FONT }, callback: (v: any) => Number(v).toFixed(2),
            },
            grid: tickGrid(),
            border: { display: false },
            title: {
              display: true, text: 'z', color: '#000', font: { family: FAMILY, size: LABEL_FONT, lineHeight: 1 },
              padding: { top: 0, bottom: 0.5 },
            },
          },
          y: {
            type: 'linear', position: 'left', min: MAIN_Y_RANGE[0], max: MAIN_Y_RANGE[1],
            afterBuildTicks: (s: any) => { s.ticks = MAIN_Y_TICKS.map((v) => ({ value: v })); },
            afterFit: fixY(183.3),
            ticks: {
              autoSkip: false, padding: 10.5, labelOffset: 2, color: '#000',
              font: { family: FAMILY, size: TICK_FONT }, callback: (v: any) => Number(v).toFixed(1),
            },
            grid: tickGrid(),
            border: { display: false },
            title: {
              display: true, text: 'μ', color: '#000',
              font: { family: FAMILY, size: LABEL_FONT, style: 'italic' },
              padding: { top: 31.5, bottom: 0 },
            },
          },
        },
      } as any,
      plugins: [mainDecor],
    });

    const ib = insetBox(main.chartArea);
    const cl = Math.floor(ib.left - INSET_PAD.l);
    const ct = Math.floor(ib.top - INSET_PAD.t);
    const cw = Math.ceil(ib.right + INSET_PAD.r) - cl;
    const ch = Math.ceil(ib.bottom + INSET_PAD.b) - ct;
    insetCanvas.width = cw;
    insetCanvas.height = ch;
    insetCanvas.style.left = `${cl}px`;
    insetCanvas.style.top = `${ct}px`;
    insetCanvas.style.width = `${cw}px`;
    insetCanvas.style.height = `${ch}px`;
    const yW = ib.left - cl;
    const padTop = ib.top - ct;
    const padRight = cl + cw - ib.right;
    const xH = ct + ch - ib.bottom;

    const inset = new Chart(insetCanvas, {
      type: 'scatter',
      data: { datasets: makeDatasets(0) as any },
      options: {
        responsive: false,
        animation: false,
        devicePixelRatio: 1,
        events: [],
        layout: { autoPadding: false, padding: { top: padTop, right: padRight, bottom: 0, left: 0 } },
        plugins: { legend: { display: false }, tooltip: { enabled: false } },
        scales: {
          x: {
            type: 'linear', position: 'bottom', min: INSET_X_RANGE[0], max: INSET_X_RANGE[1],
            afterBuildTicks: (s: any) => { s.ticks = INSET_X_TICKS.map((v) => ({ value: v })); },
            afterFit: fixX(xH),
            ticks: {
              autoSkip: false, maxRotation: 0, minRotation: 0, padding: 7.5, color: '#000',
              font: { family: FAMILY, size: TICK_FONT }, callback: (v: any) => Number(v).toFixed(1),
            },
            grid: tickGrid(),
            border: { display: false },
          },
          y: {
            type: 'linear', position: 'left', min: INSET_Y_RANGE[0], max: INSET_Y_RANGE[1],
            afterBuildTicks: (s: any) => { s.ticks = INSET_Y_TICKS.map((v) => ({ value: v })); },
            afterFit: fixY(yW),
            ticks: {
              autoSkip: false, padding: 12, labelOffset: 2, color: '#000',
              font: { family: FAMILY, size: TICK_FONT }, callback: (v: any) => Number(v).toFixed(2),
            },
            grid: tickGrid(),
            border: { display: false },
          },
        },
      } as any,
      plugins: [insetDecor],
    });

    return () => {
      inset.destroy();
      main.destroy();
    };
  }, []);

  return (
    <div style={{ position: 'fixed', left: 0, top: 0, width: PAGE_W, height: PAGE_H, background: BG_DARK, overflow: 'hidden' }}>
      <div style={{ position: 'absolute', left: 19, top: 28, right: 0, bottom: 0, background: '#fff' }} />
      <canvas ref={mainRef} width={PAGE_W} height={PAGE_H} style={{ position: 'absolute', left: 0, top: 0 }} />
      <canvas ref={insetRef} style={{ position: 'absolute', left: 0, top: 0 }} />
    </div>
  );
}
